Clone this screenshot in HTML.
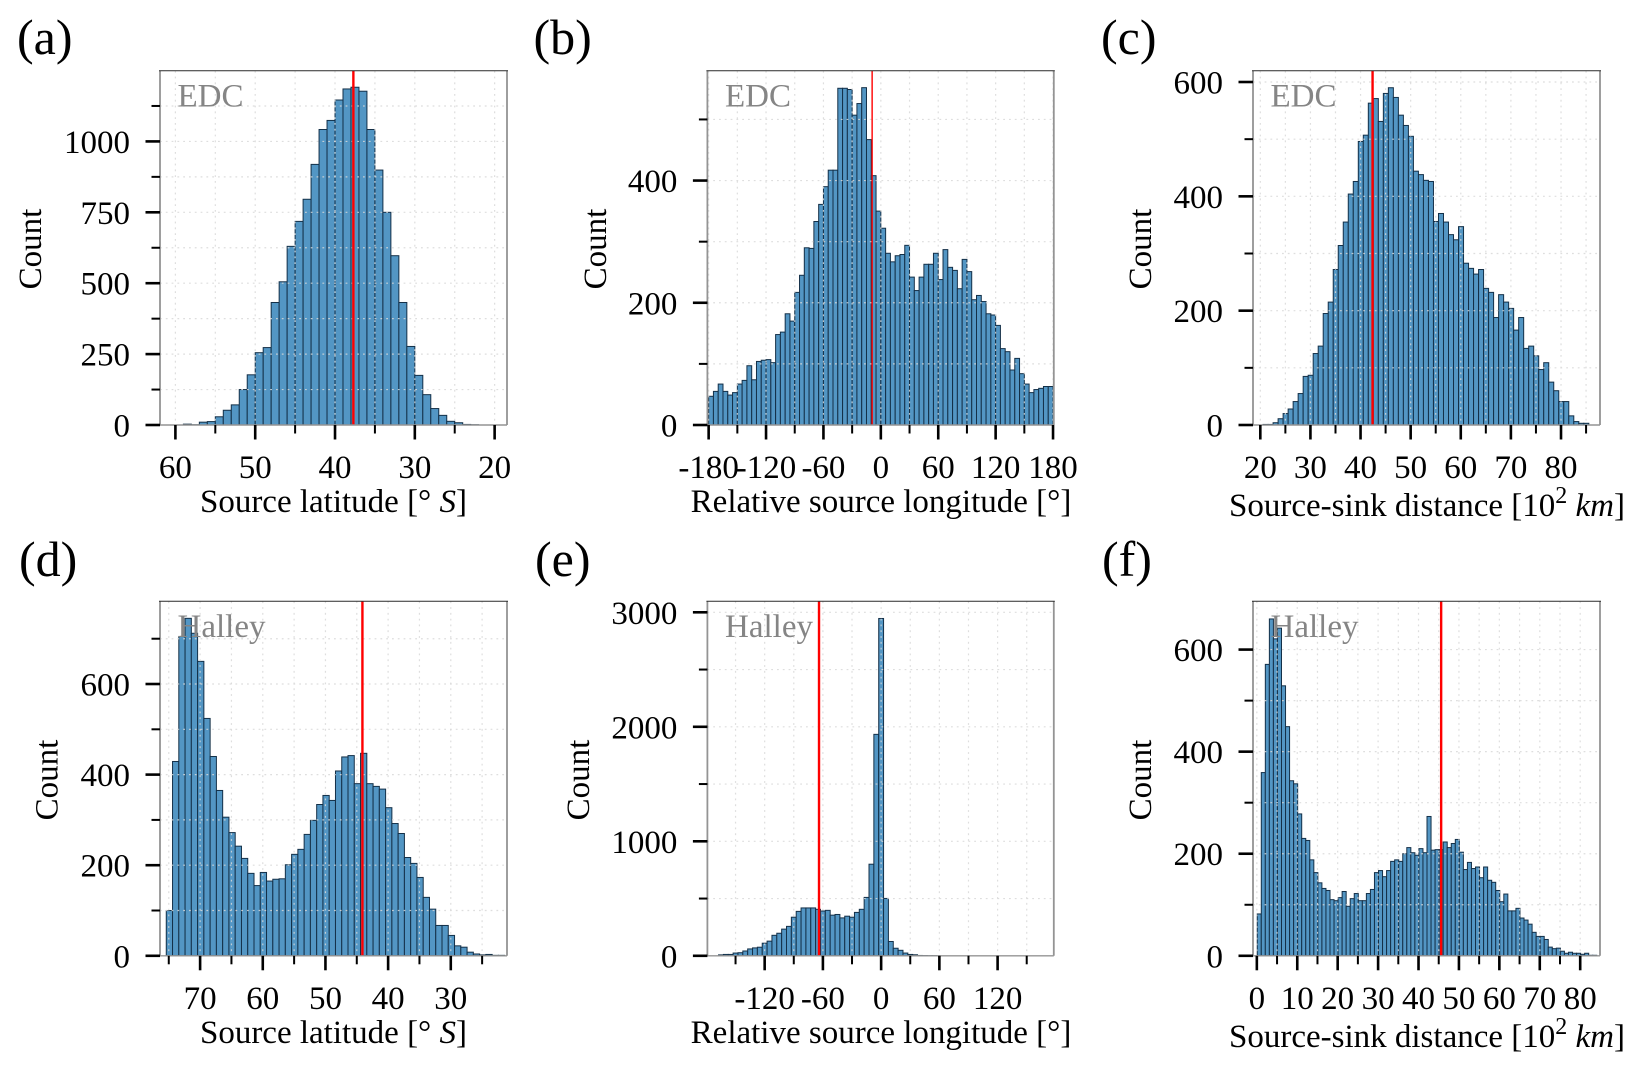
<!DOCTYPE html>
<html lang="en">
<head>
<meta charset="utf-8">
<title>Source histograms for EDC and Halley</title>
<style>
html,body{margin:0;padding:0;background:#fff;}
svg{display:block;font-family:"Liberation Serif",serif;}
svg text{fill:#000;font-size:33px;}
.letter{font-size:50px;}
.station{fill:#858585;font-size:33px;}
</style>
</head>
<body>
<svg id="figure" xmlns="http://www.w3.org/2000/svg" width="1642" height="1072" viewBox="0 0 1642 1072">
<rect width="1642" height="1072" fill="#fff"/>

<g>
<g id="plot-a"></g>
<text class="station" x="177.5" y="106.3">EDC</text>
<text class="letter" x="17" y="54">(a)</text>
<text x="333.5" y="512" text-anchor="middle">Source latitude [° <tspan font-style="italic">S</tspan>]</text>
<text transform="translate(41,249) rotate(-90)" text-anchor="middle">Count</text>
</g>

<g>
<g id="plot-b"></g>
<text class="station" x="725" y="106.3">EDC</text>
<text class="letter" x="533.5" y="54">(b)</text>
<text x="881" y="512" text-anchor="middle">Relative source longitude [°]</text>
<text transform="translate(606,249) rotate(-90)" text-anchor="middle">Count</text>
</g>

<g>
<g id="plot-c"></g>
<text class="station" x="1270.5" y="106.3">EDC</text>
<text class="letter" x="1101" y="54">(c)</text>
<text x="1427" y="516" text-anchor="middle">Source-sink distance [10<tspan font-size="24" dy="-13">2</tspan><tspan dy="13"> </tspan><tspan font-style="italic">km</tspan>]</text>
<text transform="translate(1151,249) rotate(-90)" text-anchor="middle">Count</text>
</g>

<g>
<g id="plot-d"></g>
<text class="station" x="177.5" y="637.2">Halley</text>
<text class="letter" x="19" y="576">(d)</text>
<text x="333.5" y="1042.8" text-anchor="middle">Source latitude [° <tspan font-style="italic">S</tspan>]</text>
<text transform="translate(57.5,780) rotate(-90)" text-anchor="middle">Count</text>
</g>

<g>
<g id="plot-e"></g>
<text class="station" x="725" y="637.2">Halley</text>
<text class="letter" x="535" y="576">(e)</text>
<text x="881" y="1042.8" text-anchor="middle">Relative source longitude [°]</text>
<text transform="translate(589,780) rotate(-90)" text-anchor="middle">Count</text>
</g>

<g>
<g id="plot-f"></g>
<text class="station" x="1270.5" y="637.2">Halley</text>
<text class="letter" x="1102" y="576">(f)</text>
<text x="1427" y="1047" text-anchor="middle">Source-sink distance [10<tspan font-size="24" dy="-13">2</tspan><tspan dy="13"> </tspan><tspan font-style="italic">km</tspan>]</text>
<text transform="translate(1151,780) rotate(-90)" text-anchor="middle">Count</text>
</g>
</svg>

<script>
// Panel (a) EDC source latitude
const aFirstEdge = 59;
const aBinStep = -1;
const aCounts = [3,1,10,12,29,52,71,125,177,255,273,432,505,630,718,796,919,1042,1074,1146,1185,1191,1177,1042,899,750,597,432,277,175,107,58,34,13,8,2,1];
const aMean = 37.7;
const aXLimits = [61.93,18.45];
const aYMax = 1249;
const aXMajor = [60,50,40,30,20];
const aXMinor = [55,45,35,25];
const aYMajor = [0,250,500,750,1000];
const aYMinor = [125,375,625,875,1125];

// Panel (b) EDC relative longitude
const bFirstEdge = -180;
const bBinStep = 5;
const bCounts = [47,55,67,55,49,53,67,73,97,74,104,106,107,102,148,152,182,170,217,245,290,289,333,361,390,417,417,551,551,549,507,526,552,467,408,350,322,281,267,277,279,294,242,220,242,263,263,281,238,287,258,253,223,271,251,205,212,202,182,180,163,125,120,90,109,84,67,53,58,60,63,63];
const bMean = -9.1;
const bXLimits = [-181.3,180.8];
const bYMax = 579.6;
const bXMajor = [-180,-120,-60,0,60,120,180];
const bXMinor = [-150,-90,-30,30,90,150];
const bYMajor = [0,200,400];
const bYMinor = [100,300,500];

// Panel (c) EDC distance
const cFirstEdge = 20.55;
const cBinStep = 1;
const cCounts = [1,1,4,11,20,28,41,55,85,87,125,138,195,215,272,314,355,404,426,496,507,563,571,531,580,590,573,542,524,505,444,438,428,426,356,370,355,333,324,347,283,274,264,272,239,232,188,228,215,204,166,188,134,138,121,97,109,75,60,41,41,16,6,3,3];
const cMean = 42.4;
const cXLimits = [18.54,87.78];
const cYMax = 619.6;
const cXMajor = [20,30,40,50,60,70,80];
const cXMinor = [25,35,45,55,65,75,85];
const cYMajor = [0,200,400,600];
const cYMinor = [100,300,500];

// Panel (d) Halley source latitude
const dFirstEdge = 75.4;
const dBinStep = -1;
const dCounts = [100,429,705,745,712,650,524,440,365,306,272,242,215,182,155,184,165,169,170,201,224,235,268,299,334,354,343,408,439,442,380,447,380,374,368,327,292,270,217,204,173,129,103,67,67,45,22,19,8,4,2,3,1,1];
const dMean = 44.1;
const dXLimits = [76.4,21.03];
const dYMax = 782.6;
const dXMajor = [70,60,50,40,30];
const dXMinor = [75,65,55,45,35,25];
const dYMajor = [0,200,400,600];
const dYMinor = [100,300,500,700];

// Panel (e) Halley relative longitude
const eFirstEdge = -167.5;
const eBinStep = 5;
const eCounts = [8,12,12,24,27,42,60,69,75,110,128,179,197,233,257,337,388,418,418,418,406,391,397,355,361,331,346,337,379,406,510,800,1934,2946,501,125,66,48,24,12,9,3,2,1,1];
const eMean = -64;
const eXLimits = [-179,177.9];
const eYMax = 3096;
const eXMajor = [-120,-60,0,60,120];
const eXMinor = [-150,-90,-30,30,90,150];
const eYMajor = [0,1000,2000,3000];
const eYMinor = [500,1500,2500];

// Panel (f) Halley distance
const fFirstEdge = 0.1;
const fBinStep = 1;
const fCounts = [82,359,571,660,621,642,529,449,343,337,278,230,226,188,163,143,132,128,110,108,114,126,97,112,122,108,108,122,130,163,167,155,167,185,188,185,200,212,202,197,210,202,273,207,208,208,223,212,220,228,203,169,183,171,174,153,174,148,144,128,106,121,88,88,93,74,70,62,46,38,38,32,17,14,15,9,5,7,5,5,3,5,1,1];
const fMean = 45.6;
const fXLimits = [-0.95,84.9];
const fYMax = 694.6;
const fXMajor = [0,10,20,30,40,50,60,70,80];
const fXMinor = [5,15,25,35,45,55,65,75];
const fYMajor = [0,200,400,600];
const fYMinor = [100,300,500];

const SVG_NS = 'http://www.w3.org/2000/svg';

function addLine(parent, x1, y1, x2, y2, color, width, dash) {
  const el = document.createElementNS(SVG_NS, 'line');
  el.setAttribute('x1', x1);
  el.setAttribute('y1', y1);
  el.setAttribute('x2', x2);
  el.setAttribute('y2', y2);
  el.setAttribute('stroke', color);
  el.setAttribute('stroke-width', width);
  if (dash) el.setAttribute('stroke-dasharray', dash);
  parent.appendChild(el);
  return el;
}

function addLabel(parent, x, y, anchor, content) {
  const el = document.createElementNS(SVG_NS, 'text');
  el.setAttribute('x', x);
  el.setAttribute('y', y);
  el.setAttribute('text-anchor', anchor);
  el.textContent = content;
  parent.appendChild(el);
  return el;
}

function drawPanel(groupId, box, firstEdge, binStep, counts, mean, xLimits, yMax, xMajor, xMinor, yMajor, yMinor, meanWidth) {
  const group = document.getElementById(groupId);
  const xAxis = function (v) {
    return box.left + (v - xLimits[0]) / (xLimits[1] - xLimits[0]) * (box.right - box.left);
  };
  const yAxis = function (v) {
    return box.bottom - v / yMax * (box.bottom - box.top);
  };

  counts.forEach(function (count, i) {
    const edgeA = xAxis(firstEdge + i * binStep);
    const edgeB = xAxis(firstEdge + (i + 1) * binStep);
    const bar = document.createElementNS(SVG_NS, 'rect');
    bar.setAttribute('x', Math.min(edgeA, edgeB));
    bar.setAttribute('y', yAxis(count));
    bar.setAttribute('width', Math.abs(edgeB - edgeA));
    bar.setAttribute('height', box.bottom - yAxis(count));
    bar.setAttribute('fill', '#5396c4');
    bar.setAttribute('stroke', '#143048');
    bar.setAttribute('stroke-width', '1');
    
    
    group.appendChild(bar);
  });

  xMajor.concat(xMinor).forEach(function (v) {
    const grid = addLine(group, xAxis(v), box.top, xAxis(v), box.bottom, '#d8d8d8', 1.2, '1.8 4');
    
    
    grid.setAttribute('stroke-opacity', '0.85');
  });
  yMajor.concat(yMinor).forEach(function (v) {
    if (v === 0) return;
    const grid = addLine(group, box.left, yAxis(v), box.right, yAxis(v), '#d8d8d8', 1.2, '1.8 4');
    
    
    grid.setAttribute('stroke-opacity', '0.85');
  });

  const meanLine = addLine(group, xAxis(mean), box.top, xAxis(mean), box.bottom, '#ff0000', meanWidth);
  
  

  const leftSpine = addLine(group, box.left, box.top, box.left, box.bottom, '#949494', 1.8);
  
  
  const rightSpine = addLine(group, box.right, box.top, box.right, box.bottom, '#949494', 1.8);
  
  
  const bottomSpine = addLine(group, box.left, box.bottom, box.right, box.bottom, '#949494', 1.4);
  
  
  const topSpine = addLine(group, box.left - 1, box.top, box.right + 1, box.top, '#2a2a2a', 1);
  
  

  xMajor.forEach(function (v) {
    const tick = addLine(group, xAxis(v), box.bottom, xAxis(v), box.bottom + 14.5, '#000', 2.6);
    
    
    const label = addLabel(group, xAxis(v), box.bottom + 53, 'middle', String(v));
    
    
  });
  xMinor.forEach(function (v) {
    const tick = addLine(group, xAxis(v), box.bottom, xAxis(v), box.bottom + 8.5, '#000', 2);
    
    
  });
  yMajor.forEach(function (v) {
    const tick = addLine(group, box.left - 14.5, yAxis(v), box.left, yAxis(v), '#000', 2.6);
    
    
    const label = addLabel(group, box.left - 30, yAxis(v) + 11.5, 'end', String(v));
    
    
  });
  yMinor.forEach(function (v) {
    const tick = addLine(group, box.left - 8.5, yAxis(v), box.left, yAxis(v), '#000', 2);
    
    
  });
}

const rowTop = {top: 70.8, bottom: 425};
const rowBottom = {top: 601.3, bottom: 955.8};

drawPanel('plot-a', {left: 160, right: 507, top: rowTop.top, bottom: rowTop.bottom}, aFirstEdge, aBinStep, aCounts, aMean, aXLimits, aYMax, aXMajor, aXMinor, aYMajor, aYMinor, 2.4);
drawPanel('plot-b', {left: 707.4, right: 1053.8, top: rowTop.top, bottom: rowTop.bottom}, bFirstEdge, bBinStep, bCounts, bMean, bXLimits, bYMax, bXMajor, bXMinor, bYMajor, bYMinor, 1.4);
drawPanel('plot-c', {left: 1253, right: 1600, top: rowTop.top, bottom: rowTop.bottom}, cFirstEdge, cBinStep, cCounts, cMean, cXLimits, cYMax, cXMajor, cXMinor, cYMajor, cYMinor, 2.4);
drawPanel('plot-d', {left: 160, right: 507, top: rowBottom.top, bottom: rowBottom.bottom}, dFirstEdge, dBinStep, dCounts, dMean, dXLimits, dYMax, dXMajor, dXMinor, dYMajor, dYMinor, 2.4);
drawPanel('plot-e', {left: 707.4, right: 1053.8, top: rowBottom.top, bottom: rowBottom.bottom}, eFirstEdge, eBinStep, eCounts, eMean, eXLimits, eYMax, eXMajor, eXMinor, eYMajor, eYMinor, 2.4);
drawPanel('plot-f', {left: 1253, right: 1600, top: rowBottom.top, bottom: rowBottom.bottom}, fFirstEdge, fBinStep, fCounts, fMean, fXLimits, fYMax, fXMajor, fXMinor, fYMajor, fYMinor, 2.4);
</script>
</body>
</html>
